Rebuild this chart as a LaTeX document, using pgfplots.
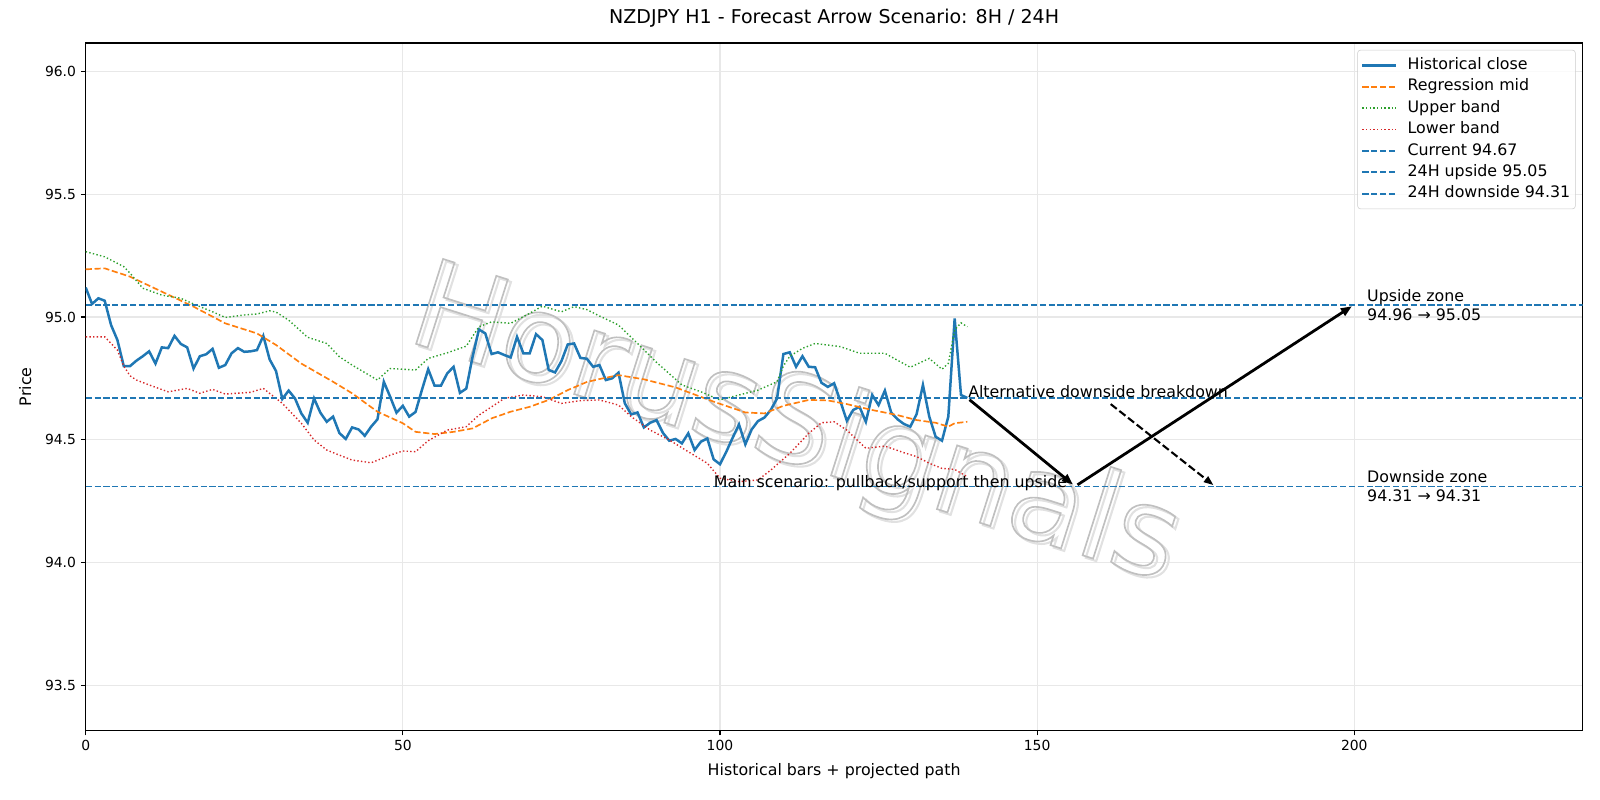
\documentclass[border=0pt]{standalone}
\usepackage{pgfplots}
\pgfplotsset{compat=1.18}
\usepackage{fontspec}
\setmainfont{DejaVu Sans}
\usetikzlibrary{arrows.meta}

\definecolor{tabblue}{HTML}{1F77B4}
\definecolor{taborange}{HTML}{FF7F0E}
\definecolor{tabgreen}{HTML}{2CA02C}
\definecolor{tabred}{HTML}{D62728}
\definecolor{wmgray}{RGB}{192,192,192}
\definecolor{wmshadow}{RGB}{225,225,225}

% stroke-only (outlined) text via the PDF text rendering mode
\newcommand{\outlined}[2]{\special{pdf:literal direct 1 Tr #1 w}#2\special{pdf:literal direct 0 Tr}}
\newcommand{\lbl}{\fontsize{11.4bp}{13.7bp}\selectfont}

\begin{document}
\begin{tikzpicture}
\path[use as bounding box] (0,0) rectangle (16in,8in);
\begin{axis}[
  at={(0.857in,0.694in)}, anchor=south west,
  scale only axis, width=14.969in, height=6.876in,
  xmin=0, xmax=236, ymin=93.315, ymax=96.116,
  xtick={0,50,100,150,200},
  ytick={93.5,94.0,94.5,95.0,95.5,96.0},
  yticklabel style={/pgf/number format/fixed, /pgf/number format/precision=1, /pgf/number format/fixed zerofill},
  /pgf/number format/assume math mode=true,
  tick label style={font=\fontsize{10bp}{12bp}\selectfont},
  title style={font=\fontsize{13.7bp}{16bp}\selectfont, at={(axis description cs:0.5,1.0164)}, anchor=base, inner sep=0},
  xlabel style={font=\lbl, at={(axis description cs:0.5,-0.0652)}, anchor=base, inner sep=0},
  ylabel style={font=\lbl, at={(axis description cs:-0.0364,0.5)}, anchor=base, rotate=0, inner sep=0},
  title={NZDJPY H1 - Forecast Arrow Scenario: 8H / 24H},
  xlabel={Historical bars + projected path},
  ylabel={Price},
  xtick pos=left, ytick pos=left,
  tick align=outside, major tick length=3.5bp,
  tick style={black, line width=0.8bp},
  axis line style={line width=0.8bp},
  grid=major, grid style={black!9, line width=0.8bp},
  legend cell align=left,
  legend style={at={(1,1)}, anchor=north east, xshift=-5bp, yshift=-5bp,
    font=\lbl,
    draw={rgb,255:red,204;green,204;blue,204}, rounded corners=2bp,
    fill=white, fill opacity=0.8, text opacity=1,
    inner xsep=2.5bp, inner ysep=4bp, row sep=1.6bp,
    nodes={inner sep=1.2bp, text height=8.7bp, text depth=2.7bp},
    /tikz/every odd column/.append style={column sep=6bp}},
  legend image code/.code={\draw[#1] (0bp,0bp) -- (24.5bp,0bp);},
]

% watermark
\node[text=wmshadow, rotate=-17.6, font=\fontsize{88bp}{96bp}\selectfont, inner sep=0]
  at (axis cs:112.3,94.535) {\outlined{1.5}{HorusSignals}};
\node[text=wmgray, rotate=-17.6, font=\fontsize{88bp}{96bp}\selectfont, inner sep=0]
  at (axis cs:111.8,94.545) {\outlined{1.2}{HorusSignals}};

\addplot[tabblue, line width=1.8bp, mark=none] coordinates {
(0,95.120) (1,95.053) (2,95.076) (3,95.066) (4,94.967) (5,94.906) (6,94.800) (7,94.800) (8,94.822) (9,94.840)
(10,94.860) (11,94.810) (12,94.876) (13,94.873) (14,94.923) (15,94.890) (16,94.876) (17,94.790) (18,94.840) (19,94.848)
(20,94.870) (21,94.793) (22,94.804) (23,94.852) (24,94.873) (25,94.858) (26,94.860) (27,94.865) (28,94.923) (29,94.827)
(30,94.780) (31,94.666) (32,94.700) (33,94.668) (34,94.607) (35,94.569) (36,94.668) (37,94.610) (38,94.573) (39,94.594)
(40,94.527) (41,94.503) (42,94.550) (43,94.542) (44,94.516) (45,94.553) (46,94.583) (47,94.736) (48,94.675) (49,94.610)
(50,94.638) (51,94.594) (52,94.613) (53,94.702) (54,94.787) (55,94.720) (56,94.720) (57,94.770) (58,94.797) (59,94.691)
(60,94.708) (61,94.838) (62,94.949) (63,94.933) (64,94.849) (65,94.856) (66,94.845) (67,94.835) (68,94.919) (69,94.852)
(70,94.852) (71,94.930) (72,94.906) (73,94.784) (74,94.774) (75,94.820) (76,94.888) (77,94.892) (78,94.833) (79,94.830)
(80,94.797) (81,94.804) (82,94.743) (83,94.750) (84,94.773) (85,94.648) (86,94.603) (87,94.611) (88,94.550) (89,94.569)
(90,94.580) (91,94.528) (92,94.496) (93,94.503) (94,94.485) (95,94.526) (96,94.458) (97,94.492) (98,94.505) (99,94.420)
(100,94.400) (101,94.451) (102,94.508) (103,94.562) (104,94.481) (105,94.542) (106,94.576) (107,94.590) (108,94.621) (109,94.668)
(110,94.849) (111,94.856) (112,94.797) (113,94.840) (114,94.797) (115,94.795) (116,94.732) (117,94.715) (118,94.730) (119,94.655)
(120,94.577) (121,94.621) (122,94.634) (123,94.573) (124,94.682) (125,94.641) (126,94.700) (127,94.610) (128,94.583) (129,94.564)
(130,94.553) (131,94.604) (132,94.723) (133,94.594) (134,94.512) (135,94.496) (136,94.594) (137,94.994) (138,94.682) (139,94.670)
};
\addlegendentry{Historical close}

\addplot[taborange, line width=1.2bp, dash pattern=on 4.44bp off 1.92bp, mark=none] coordinates {
(0,95.194) (3,95.198) (7,95.164) (12,95.103) (17,95.042) (22,94.974) (27,94.933) (30,94.886) (34,94.810) (39,94.736)
(42,94.689) (46,94.614) (50,94.567) (52,94.532) (55,94.523) (58,94.532) (61,94.546) (64,94.587) (67,94.614) (70,94.634)
(73,94.662) (76,94.702) (79,94.735) (81,94.747) (84,94.763) (88,94.746) (93,94.713) (99,94.655) (104,94.611) (107,94.607)
(110,94.638) (114,94.662) (117,94.660) (120,94.645) (124,94.621) (128,94.600) (131,94.580) (134,94.569) (136,94.553) (137,94.567)
(139,94.573)
};
\addlegendentry{Regression mid}

\addplot[tabgreen, line width=1bp, dash pattern=on 1bp off 1.65bp, mark=none] coordinates {
(0,95.266) (3,95.245) (6,95.205) (7,95.178) (9,95.117) (12,95.089) (15,95.076) (17,95.053) (20,95.021) (22,94.998)
(25,95.008) (27,95.012) (29,95.025) (30,95.020) (32,94.987) (35,94.917) (38,94.892) (40,94.838) (42,94.804) (46,94.743)
(48,94.790) (52,94.784) (54,94.831) (57,94.854) (60,94.881) (62,94.960) (64,94.980) (67,94.974) (70,95.015) (72,95.044)
(75,95.021) (77,95.042) (79,95.030) (81,95.004) (84,94.967) (87,94.892) (90,94.815) (94,94.723) (97,94.695) (100,94.662)
(103,94.682) (106,94.702) (109,94.736) (110,94.800) (111,94.840) (113,94.872) (115,94.892) (119,94.879) (122,94.852) (126,94.852)
(130,94.795) (133,94.831) (135,94.787) (136,94.811) (137,94.947) (138,94.976) (139,94.960)
};
\addlegendentry{Upper band}

\addplot[tabred, line width=1bp, dash pattern=on 1bp off 1.65bp, mark=none] coordinates {
(0,94.919) (3,94.919) (5,94.865) (6,94.800) (7,94.760) (8,94.743) (10,94.723) (13,94.695) (16,94.709) (18,94.689)
(20,94.705) (22,94.686) (26,94.693) (28,94.709) (31,94.648) (34,94.567) (36,94.499) (38,94.458) (40,94.437) (42,94.417)
(45,94.406) (48,94.437) (50,94.454) (52,94.451) (54,94.496) (57,94.539) (60,94.553) (62,94.600) (66,94.668) (69,94.682)
(72,94.675) (75,94.648) (78,94.659) (81,94.662) (84,94.641) (86,94.594) (89,94.539) (92,94.499) (95,94.451) (98,94.404)
(100,94.343) (103,94.329) (106,94.336) (108,94.376) (111,94.444) (114,94.526) (116,94.569) (118,94.573) (120,94.539) (123,94.465)
(126,94.474) (129,94.447) (131,94.431) (133,94.404) (135,94.383) (137,94.379) (139,94.349)
};
\addlegendentry{Lower band}

\addplot[tabblue, line width=1.2bp, dash pattern=on 4.44bp off 1.92bp, mark=none] coordinates {(0,94.67) (236,94.67)};
\addlegendentry{Current 94.67}
\addplot[tabblue, line width=1.2bp, dash pattern=on 4.44bp off 1.92bp, mark=none] coordinates {(0,95.05) (236,95.05)};
\addlegendentry{24H upside 95.05}
\addplot[tabblue, line width=1.2bp, dash pattern=on 4.44bp off 1.92bp, mark=none] coordinates {(0,94.31) (236,94.31)};
\addlegendentry{24H downside 94.31}

% scenario arrows
\draw[black, line width=2bp, shorten <=2bp, shorten >=2bp, -{Triangle[length=8bp,width=6bp]}]
  (axis cs:139,94.67) -- (axis cs:156,94.31);
\draw[black, line width=2bp, shorten <=2bp, shorten >=2bp, -{Triangle[length=8bp,width=6bp]}]
  (axis cs:156,94.31) -- (axis cs:200,95.05);
\draw[black, line width=1.5bp, dash pattern=on 5.55bp off 2.4bp, -{Triangle[length=7bp,width=5bp]}]
  (axis cs:161.6,94.645) -- (axis cs:177.8,94.315);

\node[anchor=base west, inner sep=0, font=\lbl] at (axis cs:139.1,94.672) {Alternative downside breakdown};
\node[anchor=base west, inner sep=0, font=\lbl] at (axis cs:99,94.306) {Main scenario: pullback/support then upside};
\node[anchor=west, inner sep=0, align=left, font=\lbl] at (axis cs:202,95.05) {Upside zone\\94.96 → 95.05};
\node[anchor=west, inner sep=0, align=left, font=\lbl] at (axis cs:202,94.31) {Downside zone\\94.31 → 94.31};
\end{axis}
\end{tikzpicture}
\end{document}
